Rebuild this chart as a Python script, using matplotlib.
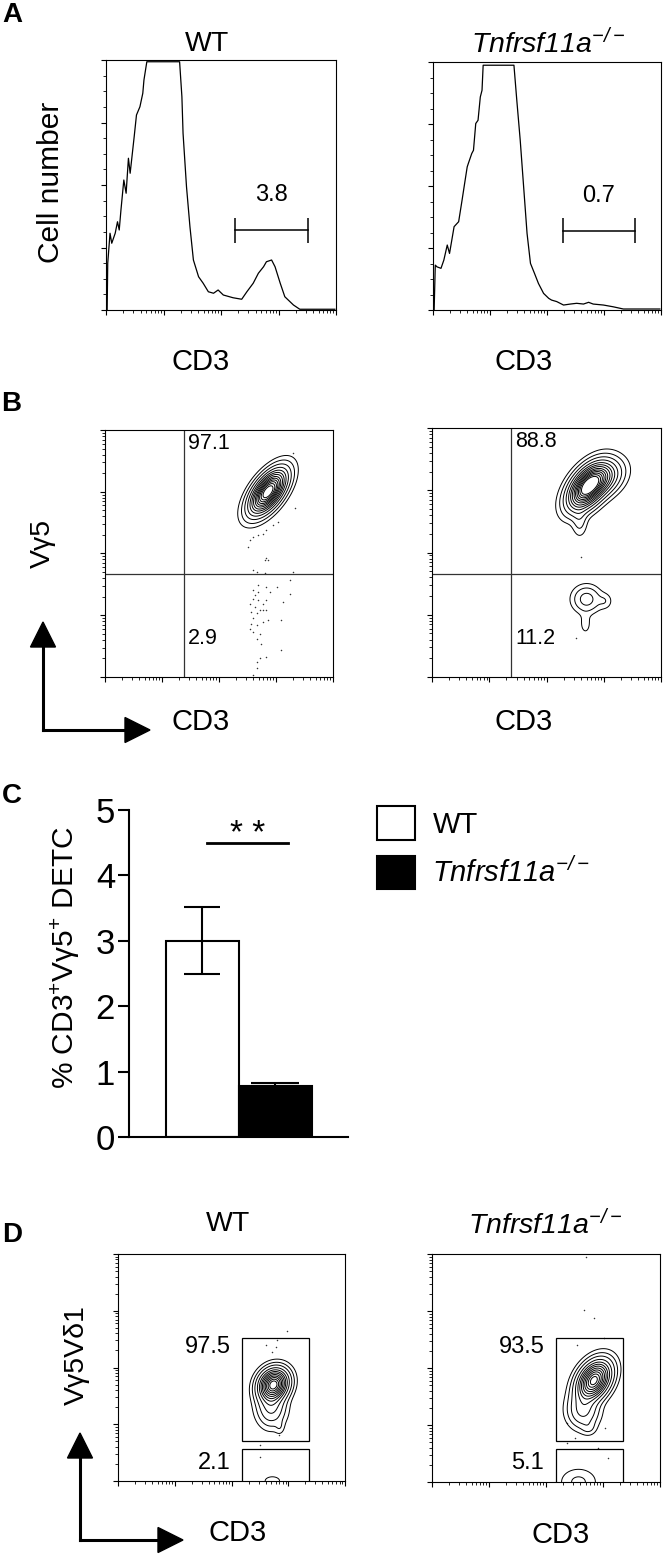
import numpy as np
import matplotlib
matplotlib.use('Agg')
import matplotlib.pyplot as plt
from matplotlib.ticker import FixedLocator, NullFormatter, AutoMinorLocator
from matplotlib.patches import Rectangle, Polygon
from matplotlib.lines import Line2D

plt.rcParams['font.family'] = ['Liberation Sans', 'DejaVu Sans']
plt.rcParams['mathtext.fontset'] = 'custom'
plt.rcParams['mathtext.rm'] = 'Liberation Sans'
plt.rcParams['mathtext.it'] = 'Liberation Sans:italic'
plt.rcParams['mathtext.sf'] = 'Liberation Sans:italic'
plt.rcParams['mathtext.bf'] = 'Liberation Sans:bold'

KO = r'$\mathsf{Tnfrsf11a}^{\mathsf{-/-}}$'

# ---- A: CD3 histograms (x in log10 decades, y in % of max)
wt_hist_x = [0.02, 0.03, 0.07, 0.10, 0.16, 0.20, 0.23, 0.26, 0.31, 0.35, 0.39, 0.42, 0.49, 0.53,
             0.59, 0.64, 0.66, 0.71, 1.28, 1.32, 1.34, 1.40, 1.46, 1.52, 1.61, 1.69, 1.78, 1.87,
             1.95, 2.04, 2.21, 2.36, 2.45, 2.56, 2.65, 2.74, 2.79, 2.88, 2.94, 3.03, 3.11, 3.26,
             3.37, 3.98]
wt_hist_y = [0, 18.7, 30.7, 26.7, 30.7, 35.3, 32, 40, 52, 46.7, 60.7, 54.7, 69.3, 78,
             81.3, 86.7, 92, 99.3, 99.3, 85.3, 70.7, 49.3, 33.3, 20, 13.3, 10.7, 7.3, 6.7,
             8, 6, 4.9, 4.3, 7.3, 10.7, 14.7, 17.3, 19.3, 20, 17.3, 10.7, 5.3, 2,
             0.3, 0.3]
ko_hist_x = [0.02, 0.04, 0.07, 0.14, 0.19, 0.25, 0.29, 0.33, 0.37, 0.45, 0.51, 0.55, 0.60, 0.62,
             0.68, 0.71, 0.75, 0.79, 0.83, 0.86, 0.88, 1.42, 1.47, 1.53, 1.59, 1.65, 1.71, 1.78,
             1.85, 1.94, 2.03, 2.08, 2.17, 2.29, 2.41, 2.52, 2.64, 2.73, 2.81, 2.99, 3.16, 3.34,
             3.98]
ko_hist_y = [0, 18.1, 17.4, 16.8, 20.1, 26.2, 22.8, 28.2, 33.6, 35.6, 44.3, 50.3, 57.7, 59.1,
             63.1, 64.4, 75.2, 76.5, 85.9, 88.6, 98.7, 98.7, 84.6, 68.5, 49.7, 30.9, 18.8, 14.8,
             10.7, 6.7, 4.7, 4.0, 3.4, 2.0, 2.4, 2.7, 2.4, 3.1, 2.4, 2.0, 1.3, 0.4,
             0.4]
gate_a = [(2.25, 3.52), (2.28, 3.54)]
pct_a = ['3.8', '0.7']

# ---- B: CD3 vs Vg5 (populations: cx, cy, sx, sy, rho, peak)
pops_b_wt = [(2.86, 3.00, 0.19, 0.21, 0.6, 1.0)]
pops_b_ko = [(2.72, 3.05, 0.20, 0.21, 0.5, 1.0),
             (3.00, 3.20, 0.20, 0.17, 0.3, 0.30),
             (2.58, 2.50, 0.08, 0.15, 0.0, 0.06),
             (2.70, 1.25, 0.15, 0.13, 0.0, 0.13),
             (3.02, 1.22, 0.08, 0.08, 0.0, 0.04),
             (2.68, 0.85, 0.07, 0.12, 0.0, 0.03)]
dots_b_wt_x = [3.30, 3.33, 3.04, 2.95, 2.83, 2.77, 2.69, 2.60, 2.54, 2.51, 2.83, 2.86, 2.80, 2.60,
               2.66, 2.80, 3.30, 3.24, 2.69, 2.83, 3.01, 2.60, 2.69, 2.89, 2.63, 3.24, 2.60, 2.69,
               2.83, 3.12, 2.77, 2.54, 2.63, 2.72, 2.57, 2.77, 2.83, 2.66, 2.60, 2.77, 2.86, 3.09,
               2.57, 2.66, 2.54, 2.60, 2.72, 2.66, 2.74, 3.09, 2.83, 2.72, 2.66, 2.66, 2.60]
dots_b_wt_y = [3.62, 2.73, 2.51, 2.46, 2.38, 2.32, 2.30, 2.27, 2.22, 2.11, 1.92, 1.89, 1.89, 1.73,
               1.70, 1.68, 1.70, 1.57, 1.49, 1.46, 1.46, 1.41, 1.38, 1.38, 1.32, 1.34, 1.27, 1.24,
               1.24, 1.22, 1.19, 1.19, 1.14, 1.08, 1.05, 1.08, 1.08, 1.03, 0.95, 0.89, 0.92, 0.93,
               0.86, 0.84, 0.78, 0.73, 0.70, 0.62, 0.54, 0.44, 0.32, 0.30, 0.24, 0.14, 0.03]
dots_b_ko_x = [2.60, 2.52]
dots_b_ko_y = [1.92, 0.62]
quad_b = (1.38, 1.66)
pct_b = [('97.1', '2.9'), ('88.8', '11.2')]

# ---- C: bar chart
groups = ['WT', KO]
means = [3.0, 0.78]
errs = [0.51, 0.04]

# ---- D: CD3 vs Vg5Vd1
pops_d_wt = [(2.74, 1.70, 0.15, 0.16, 0.15, 1.0),
             (2.70, 1.30, 0.15, 0.20, 0.0, 0.2),
             (2.85, 0.95, 0.05, 0.08, 0.0, 0.03),
             (2.72, 0.00, 0.12, 0.07, 0.0, 0.035)]
pops_d_ko = [(2.84, 1.78, 0.17, 0.20, 0.35, 1.0),
             (2.65, 1.25, 0.16, 0.18, 0.0, 0.2),
             (2.75, 0.95, 0.08, 0.08, 0.0, 0.04),
             (2.57, 0.00, 0.20, 0.15, 0.0, 0.06)]
dots_d_wt_x = [2.98, 2.60, 2.78, 2.72, 2.81, 2.84, 2.51, 2.51]
dots_d_wt_y = [2.64, 2.40, 2.37, 2.28, 2.49, 0.81, 0.64, 0.43]
dots_d_ko_x = [2.70, 2.66, 2.85, 2.54, 3.01, 2.36, 2.51, 3.04, 2.92, 3.09, 2.36]
dots_d_ko_y = [3.94, 3.02, 2.87, 2.41, 2.52, 1.03, 0.77, 0.95, 0.60, 0.42, 0.68]
gates_d = [(2.19, 3.37, 0.71, 2.52, 0.56), (2.17, 3.35, 0.72, 2.52, 0.58)]
pct_d = [('97.5', '2.1'), ('93.5', '5.1')]

levels_b = [0.02, 0.05, 0.1, 0.17, 0.25, 0.33, 0.41, 0.5, 0.58, 0.66, 0.74, 0.82, 0.9]
levels_d = [0.02, 0.05, 0.1, 0.18, 0.27, 0.36, 0.45, 0.55, 0.65, 0.75, 0.85, 0.94]

W, H = 664, 1558
fig = plt.figure(figsize=(W / 100, H / 100), dpi=100)


def px_axes(l, r, t, b):
    return fig.add_axes([l / W, 1 - b / H, (r - l) / W, (b - t) / H])


def ftext(x, y, s, **kw):
    kw.setdefault('ha', 'center')
    kw.setdefault('va', 'center')
    fig.text(x / W, 1 - y / H, s, **kw)


dec_major = [0, 1, 2, 3, 4]
dec_minor = [d + np.log10(m) for d in range(4) for m in range(2, 10)]


def style_flow(ax, ylog=True):
    ax.set_xlim(0, 4)
    ax.xaxis.set_major_locator(FixedLocator(dec_major))
    ax.xaxis.set_minor_locator(FixedLocator(dec_minor))
    if ylog:
        ax.set_ylim(0, 4)
        ax.yaxis.set_major_locator(FixedLocator(dec_major))
        ax.yaxis.set_minor_locator(FixedLocator(dec_minor))
    ax.xaxis.set_major_formatter(NullFormatter())
    ax.yaxis.set_major_formatter(NullFormatter())
    ax.tick_params(which='major', direction='out', length=3.5, width=0.8)
    ax.tick_params(which='minor', direction='out', length=2, width=0.6)
    for s in ax.spines.values():
        s.set_linewidth(0.8)


def density(pops, X, Y):
    Z = np.zeros_like(X)
    for cx, cy, sx, sy, r, w in pops:
        dx = (X - cx) / sx
        dy = (Y - cy) / sy
        q = (dx * dx - 2 * r * dx * dy + dy * dy) / (1 - r * r)
        Z += w * np.exp(-q / 2)
    return Z


g = np.linspace(0, 4, 401)
GX, GY = np.meshgrid(g, g)

# ---------------- Panel A
ftext(12, 15, 'A', fontsize=20, fontweight='bold')
rects_a = [(106, 336, 60, 310), (433, 661, 62, 310)]
hist = [(wt_hist_x, wt_hist_y), (ko_hist_x, ko_hist_y)]
cd3_x = [201, 524]
for i in range(2):
    ax = px_axes(*rects_a[i])
    style_flow(ax, ylog=False)
    ax.set_ylim(0, 100)
    ax.yaxis.set_major_locator(FixedLocator([0, 25, 50, 75, 100]))
    ax.yaxis.set_minor_locator(AutoMinorLocator(4))
    ax.plot(hist[i][0], hist[i][1], color='black', lw=0.9)
    x0, x1 = gate_a[i]
    ax.plot([x0, x1], [32, 32], color='black', lw=1.1)
    ax.vlines([x0, x1], 27, 37, color='black', lw=1.1)
    ax.text((x0 + x1) / 2, 46, pct_a[i], fontsize=17, ha='center', va='center')
    ftext(cd3_x[i], 362, 'CD3', fontsize=21)
ftext(207, 44, 'WT', fontsize=20.5)
ftext(548, 44, KO, fontsize=20.5)
ftext(51, 182, 'Cell number', fontsize=21.5, rotation=90)

# ---------------- Panel B
ftext(11, 404, 'B', fontsize=20, fontweight='bold')
rects_b = [(105, 333, 430, 677), (432, 661, 428, 677)]
pops_b = [pops_b_wt, pops_b_ko]
dots_b = [(dots_b_wt_x, dots_b_wt_y), (dots_b_ko_x, dots_b_ko_y)]
for i in range(2):
    ax = px_axes(*rects_b[i])
    style_flow(ax)
    Z = density(pops_b[i], GX, GY)
    ax.contour(g, g, Z, levels=levels_b, colors='black', linewidths=0.7)
    ax.scatter(dots_b[i][0], dots_b[i][1], s=1.2, c='#333333', linewidths=0)
    ax.axvline(quad_b[0], color='#333333', lw=0.9)
    ax.axhline(quad_b[1], color='#333333', lw=0.9)
    ax.text(quad_b[0] + 0.07, 3.78, pct_b[i][0], fontsize=15.5, ha='left', va='center')
    ax.text(quad_b[0] + 0.07, 0.62, pct_b[i][1], fontsize=15.5, ha='left', va='center')
    ftext(cd3_x[i], 722, 'CD3', fontsize=21)
ftext(43, 543, 'Vγ5', fontsize=20.5, rotation=90)


def axis_arrows(x0, y0, up, right):
    lw = 2.2
    fig.add_artist(Line2D([x0 / W, x0 / W], [1 - y0 / H, 1 - (up + 25) / H], color='black', lw=lw))
    fig.add_artist(Line2D([x0 / W, (right - 25) / W], [1 - y0 / H, 1 - y0 / H], color='black', lw=lw))
    head_up = [(x0 - 12.5, up + 25), (x0 + 12.5, up + 25), (x0, up)]
    head_rt = [(right - 25, y0 - 12.5), (right - 25, y0 + 12.5), (right, y0)]
    for pts in (head_up, head_rt):
        fig.add_artist(Polygon([(px / W, 1 - py / H) for px, py in pts], closed=True,
                               facecolor='black', edgecolor='black', transform=fig.transFigure))


axis_arrows(43, 730, 622, 150)

# ---------------- Panel C
ftext(12, 796, 'C', fontsize=20, fontweight='bold')
axc = px_axes(129, 348, 810, 1137)
bars = axc.bar([1, 2], means, width=1.0, color=['white', 'black'], edgecolor='black', linewidth=1.5)
axc.errorbar([1], [means[0]], yerr=[errs[0]], fmt='none', ecolor='black', elinewidth=1.5,
             capsize=13, capthick=1.5)
axc.errorbar([2], [means[1]], yerr=[[0], [errs[1]]], fmt='none', ecolor='black', elinewidth=1.5,
             capsize=17, capthick=1.5)
axc.set_xlim(0, 3)
axc.set_ylim(0, 5)
axc.set_yticks([0, 1, 2, 3, 4, 5])
axc.set_xticks([])
axc.spines['top'].set_visible(False)
axc.spines['right'].set_visible(False)
axc.spines['left'].set_linewidth(1.5)
axc.spines['bottom'].set_linewidth(1.5)
axc.tick_params(axis='y', direction='out', length=8, width=1.5, labelsize=25, pad=2)
axc.plot([1.07, 2.18], [4.49, 4.49], color='black', lw=2, clip_on=False)
axc.text(1.62, 4.62, '* *', fontsize=24, ha='center', va='center')
ftext(65, 957, '% CD3$^{+}$Vγ5$^{+}$ DETC', fontsize=21.5, rotation=90)
axc.legend(bars, groups, loc='upper left', bbox_to_anchor=(377 / W, 1 - 806 / H),
           bbox_transform=fig.transFigure, frameon=False, fontsize=21, borderaxespad=0,
           borderpad=0, handlelength=1.3, handleheight=1.4, labelspacing=0.55, handletextpad=0.6)

# ---------------- Panel D
ftext(12, 1235, 'D', fontsize=20, fontweight='bold')
rects_d = [(118, 345, 1254, 1481), (432, 660, 1254, 1482)]
pops_d = [pops_d_wt, pops_d_ko]
dots_d = [(dots_d_wt_x, dots_d_wt_y), (dots_d_ko_x, dots_d_ko_y)]
for i in range(2):
    ax = px_axes(*rects_d[i])
    style_flow(ax)
    Z = density(pops_d[i], GX, GY)
    ax.contour(g, g, Z, levels=levels_d, colors='black', linewidths=0.7)
    ax.scatter(dots_d[i][0], dots_d[i][1], s=1.2, c='#333333', linewidths=0)
    x0, x1, y0, y1, ylow = gates_d[i]
    ax.add_patch(Rectangle((x0, y0), x1 - x0, y1 - y0, fill=False, ec='black', lw=0.9))
    ax.add_patch(Rectangle((x0, -0.2), x1 - x0, ylow + 0.2, fill=False, ec='black', lw=0.9))
    ax.text(x0 - 0.2, y1 - 0.15, pct_d[i][0], fontsize=17, ha='right', va='center')
    ax.text(x0 - 0.2, ylow - 0.24, pct_d[i][1], fontsize=17, ha='right', va='center')
ftext(228, 1224, 'WT', fontsize=20.5)
ftext(545, 1225, KO, fontsize=20.5)
ftext(238, 1533, 'CD3', fontsize=21)
ftext(561, 1535, 'CD3', fontsize=21)
ftext(77, 1355, 'Vγ5Vδ1', fontsize=20.5, rotation=90)
axis_arrows(80, 1540, 1433, 183)

fig.savefig('out.png', dpi=100)
